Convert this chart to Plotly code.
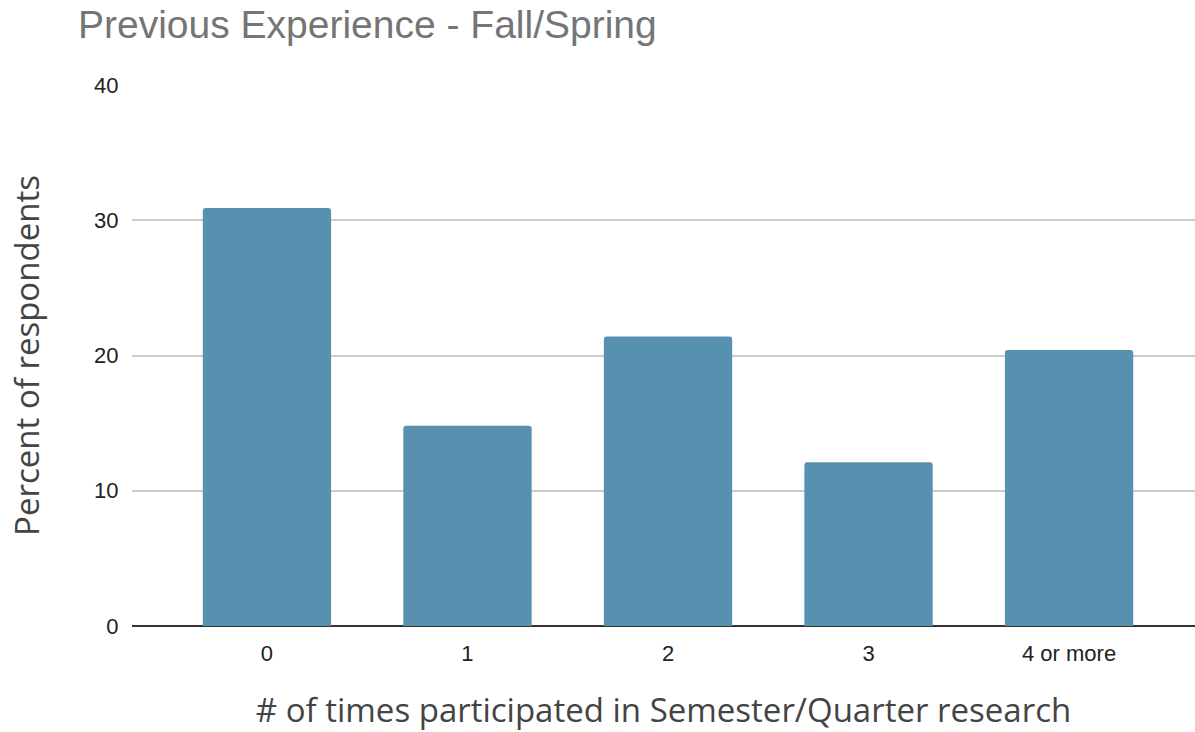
import plotly.graph_objects as go

categories = ["0", "1", "2", "3", "4 or more"]
percents = [30.9, 14.8, 21.4, 12.1, 20.4]
y_ticks = [0, 10, 20, 30, 40]

fig = go.Figure(go.Bar(
    x=categories,
    y=percents,
    marker=dict(color="#5891AF", cornerradius=3, line=dict(width=0)),
    width=0.64,
))

tick_font = dict(family="Liberation Sans, Arial", size=22, color="#222")
axis_title_font = dict(family="Open Sans", size=33, color="#444")

fig.update_layout(
    width=1195, height=732,
    margin=dict(l=132, r=0, t=85, b=106, autoexpand=False),
    plot_bgcolor="white", paper_bgcolor="white",
    showlegend=False,
    title=dict(
        text="Previous Experience - Fall/Spring",
        x=78 / 1195, xanchor="left", xref="container",
        y=1 - 24 / 732, yanchor="middle", yref="container",
        font=dict(family="Liberation Sans, Arial", size=39, color="#757575"),
    ),
)

fig.update_xaxes(
    range=[-0.673, 4.628],
    showgrid=False,
    showline=False,
    ticks="outside", ticklen=8, tickcolor="white",
    tickfont=tick_font,
    automargin=False,
    title=dict(text="# of times participated in Semester/Quarter research",
               font=axis_title_font, standoff=39),
)
fig.update_yaxes(
    range=[0, 40],
    tickvals=y_ticks,
    showgrid=True, gridcolor="#cccccc", gridwidth=1.5,
    zeroline=True, zerolinecolor="#333333", zerolinewidth=2,
    ticks="outside", ticklen=8, tickcolor="white",
    tickfont=tick_font,
    automargin=False,
    title=dict(text="Percent of respondents",
               font=axis_title_font, standoff=44),
)

# drop the browser's default 8px body margin so the figure sits at the page corner
fig.write_html(
    "out.html",
    config={"displayModeBar": False},
    post_script="document.body.style.margin='0';document.body.style.overflow='hidden';",
)
